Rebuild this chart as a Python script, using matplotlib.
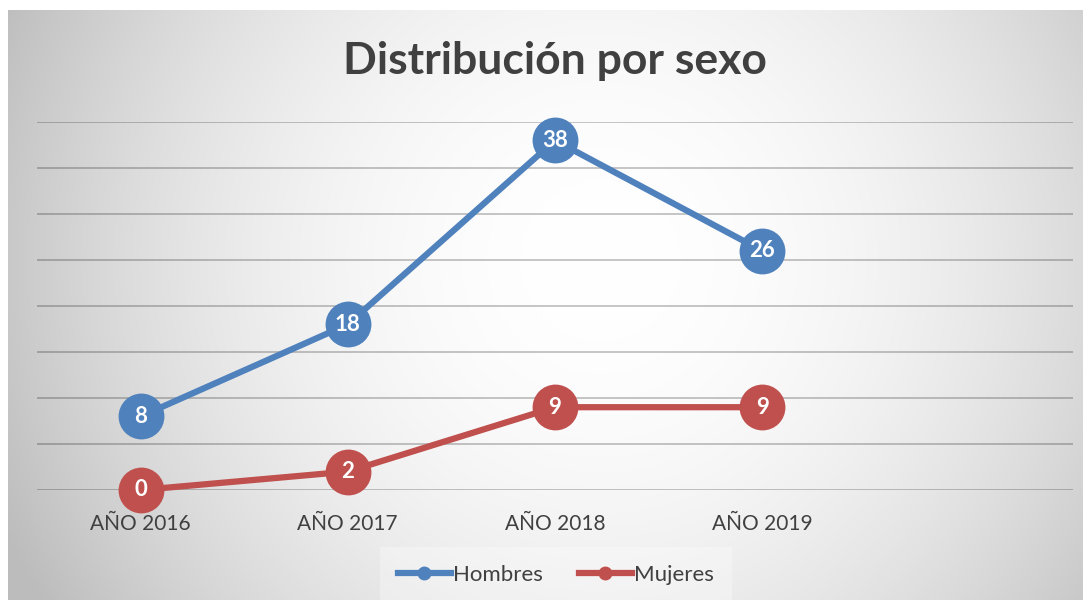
import numpy as np
import matplotlib
matplotlib.use("Agg")
import matplotlib.pyplot as plt
from matplotlib.lines import Line2D

categories = ["AÑO 2016", "AÑO 2017", "AÑO 2018", "AÑO 2019", ""]
hombres = [8, 18, 38, 26]
mujeres = [0, 2, 9, 9]
title = "Distribución por sexo"

plt.rcParams['font.family'] = ['Lato', 'DejaVu Sans']

W, H = 1090, 606
fig = plt.figure(figsize=(W / 100, H / 100), dpi=100)
fig.patch.set_facecolor("white")

# background radial gradient (chart area), pixel-based
x0, x1, y0, y1 = 8, 1083, 10, 600
bg = fig.add_axes([x0 / W, (H - y1) / H, (x1 - x0) / W, (y1 - y0) / H])
bg.set_zorder(-10)
yy, xx = np.mgrid[y0:y1, x0:x1].astype(float)
cx, cy = 600.0, 260.0
r2 = ((xx - cx) / 600.0) ** 2 + ((yy - cy) / 600.0) ** 2
val = np.clip(1.0 - 0.22 * r2, 0.74, 1.0)
img = np.dstack([val, val, val])
bg.imshow(img, aspect="auto", extent=[0, 1, 0, 1], interpolation="bilinear")
bg.axis("off")

ax = fig.add_axes([37 / W, (H - 490) / H, (1073 - 37) / W, (490 - 122) / H])
ax.set_facecolor("none")
ax.set_zorder(1)
x = np.arange(len(categories))
ax.set_xlim(-0.5, len(categories) - 0.5)
ax.set_ylim(0, 40)
ax.set_yticks(np.arange(0, 41, 5))
ax.yaxis.grid(True, color="black", alpha=0.22, linewidth=1.4)
ax.set_axisbelow(True)
ax.tick_params(axis="y", left=False, labelleft=False)
ax.tick_params(axis="x", bottom=False, pad=14, labelsize=15, labelcolor="#404040")
ax.set_xticks(x)
ax.set_xticklabels(categories)
for s in ax.spines.values():
    s.set_visible(False)

blue = "#4F81BD"
red = "#C0504D"
series = [("Hombres", hombres, blue), ("Mujeres", mujeres, red)]
for name, vals, col in series:
    xs = x[:len(vals)]
    ax.plot(xs, vals, color=col, linewidth=4.5, marker="o", markersize=33,
            markeredgewidth=0, clip_on=False, solid_capstyle="round", zorder=3)
    for xi, v in zip(xs, vals):
        ax.text(xi, v, str(v), ha="center", va="center", color="white",
                fontsize=16, fontweight="bold", zorder=4)

fig.text(555 / W, 1 - 61 / H, title, ha="center", va="center",
         fontsize=32, fontweight="bold", color="#404040")

handles = [Line2D([0], [0], color=c, linewidth=4.5, marker="o", markersize=9)
           for _, _, c in series]
leg = fig.legend(handles, [n for n, _, _ in series], loc="center",
                 bbox_to_anchor=(556 / W, 1 - 575 / H), ncol=2, frameon=True,
                 fontsize=16, handlelength=2.4, handletextpad=0.1,
                 columnspacing=1.6, labelcolor="#404040")
leg.get_frame().set_facecolor("white")
leg.get_frame().set_alpha(0.3)
leg.get_frame().set_edgecolor("none")
leg.get_frame().set_boxstyle("square", pad=0.4)

fig.savefig("out.png", dpi=100)
